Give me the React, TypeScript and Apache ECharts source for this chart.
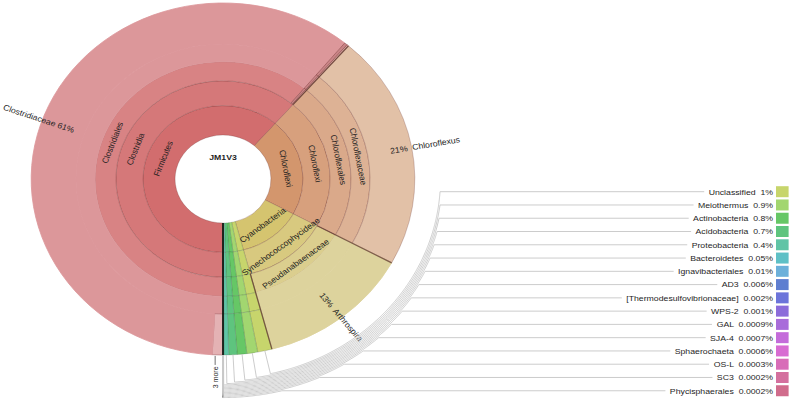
import React, { useEffect, useRef } from "react";
import * as echarts from "echarts";

// ---------------- data (percent of reads) ----------------
const sampleName = "JM1V3";

const firmicutesPath = ["Firmicutes", "Clostridia", "Clostridiales", "Clostridiaceae"];
const clostridiaceaePct = 60.5;
const clostridiaceaeMorePct = 0.9; // hatched block ("3 more")
const otherClostridiaPct = [0.25, 0.15];

const chloroflexiPath = ["Chloroflexi", "Chloroflexi", "Chloroflexales", "Chloroflexaceae", "Chloroflexus"];
const chloroflexusPct = 21.4;

const cyanoPath = ["Cyanobacteria", "Synechococcophycideae", "Pseudanabaenaceae", "Arthrospira"];
const arthrospiraPct = 12.9;

const keyNames = [
  "Unclassified",
  "Meiothermus",
  "Actinobacteria",
  "Acidobacteria",
  "Proteobacteria",
  "Bacteroidetes",
  "Ignavibacteriales",
  "AD3",
  "[Thermodesulfovibrionaceae]",
  "WPS-2",
  "GAL",
  "SJA-4",
  "Sphaerochaeta",
  "OS-L",
  "SC3",
  "Phycisphaerales",
];
const keyPct = [1.2, 0.9, 0.8, 0.7, 0.4, 0.05, 0.01, 0.006, 0.002, 0.001, 0.0009, 0.0007, 0.0006, 0.0003, 0.0002, 0.0002];
const moreText = "3 more";

// ---------------- styles ----------------
const firmicutesColors = ["#d26d6e", "#d57879", "#d88384", "#dc979a"];
const firmicutesOtherColors = ["#c98486", "#d9a39f"];
const hatchColor = "#e4b2b4";
const chloroflexiColors = ["#d3966d", "#d7a07d", "#daa98a", "#ddb295", "#e2c1a7"];
const cyanoColors = ["#d5c46f", "#d8c97f", "#dbce8e", "#ddd39d"];
const keyColors = [
  "#c7d56c", "#a2d670", "#66c766", "#5ec47e", "#60c4a6", "#5ec0c6", "#6cb0da", "#5e7ed0",
  "#6c74da", "#8c6cda", "#a86cda", "#c46cda", "#d86cd2", "#d86cb8", "#d4709e", "#d06c8c",
];
const FONT = "'Liberation Sans', Arial, Helvetica, sans-serif";
const TXT = "#1e1e1e";
const LINE_COLOR = "#c9c9c9";

// ---------------- layout ----------------
const SX = 1.09; // the reference picture is horizontally stretched
const W = 725;
const H = 402;
const CX = 204.6;
const CY = 179;
const R = [44, 73.4, 98.2, 117.4, 134.9, 176];
const KEY_R0 = 199.5;
const KEY_DR = 1.27;
const LEG_TOP = 191.7;
const LEG_STEP = 13.27;
const LEG_TEXT_RIGHT = 709.2;
const SW_X = 711.9;
const SW_W = 11.6;
const SW_H = 11;

const fmtPct = (v: number) => (v >= 1 ? `${Math.round(v)}%` : `${Number(v.toPrecision(1))}%`);
const sum = (a: number[]) => a.reduce((s, x) => s + x, 0);

function chainNode(name: string, levels: number, value: number, color: string, borderColor: string): any {
  const node: any = { name, value, itemStyle: { color, borderColor }, label: { show: false } };
  if (levels > 1) node.children = [chainNode(name, levels - 1, value, color, borderColor)];
  return node;
}

function buildOption() {
  const fPct = clostridiaceaePct + sum(otherClostridiaPct);
  const keyTotal = sum(keyPct);
  const total = fPct + chloroflexusPct + arthrospiraPct + keyTotal;
  const toV = (cum: number) => (cum / total) * 100;

  const firmicutes = {
    name: firmicutesPath[0],
    itemStyle: { color: firmicutesColors[0] },
    children: [
      {
        name: firmicutesPath[1],
        itemStyle: { color: firmicutesColors[1] },
        children: [
          {
            name: firmicutesPath[2],
            itemStyle: { color: firmicutesColors[2] },
            children: [
              {
                name: firmicutesPath[3],
                itemStyle: { color: firmicutesColors[3], borderColor: firmicutesColors[3] },
                label: {
                  rotate: "radial",
                  align: "left",
                  distance: 145 - R[3],
                  formatter: `${firmicutesPath[3]} ${fmtPct(clostridiaceaePct)}`,
                },
                children: [
                  {
                    name: moreText,
                    value: clostridiaceaeMorePct,
                    itemStyle: {
                      color: hatchColor,
                      borderColor: "rgba(150,80,85,0.55)",
                      decal: {
                        symbol: "rect",
                        symbolSize: 1,
                        dashArrayX: [1, 0],
                        dashArrayY: [1, 2],
                        rotation: Math.PI / 4,
                        color: "rgba(170,95,100,0.35)",
                      },
                    },
                    label: { show: false },
                  },
                  {
                    name: firmicutesPath[3],
                    value: clostridiaceaePct - clostridiaceaeMorePct,
                    itemStyle: { color: firmicutesColors[3], borderColor: firmicutesColors[3] },
                    label: { show: false },
                  },
                ],
              },
            ],
          },
          ...otherClostridiaPct.map((v, k) =>
            chainNode("", 3, v, firmicutesOtherColors[k], "rgba(120,50,50,0.55)")
          ),
        ],
      },
    ],
  };

  const chloroflexi: any = {
    name: chloroflexiPath[4],
    value: chloroflexusPct,
    itemStyle: { color: chloroflexiColors[4] },
    label: { rotate: "radial", position: "outside", distance: -20, formatter: `${fmtPct(chloroflexusPct)}  ${chloroflexiPath[4]}` },
  };
  let cf = chloroflexi;
  for (let d = 3; d >= 0; d--) {
    cf = { name: chloroflexiPath[d], itemStyle: { color: chloroflexiColors[d] }, children: [cf] };
  }

  const arthLeaf = {
    name: cyanoPath[3],
    value: arthrospiraPct,
    itemStyle: { color: cyanoColors[3], borderColor: cyanoColors[3] },
    label: { rotate: "radial", position: "outside", distance: -30, formatter: `${fmtPct(arthrospiraPct)}  ${cyanoPath[3]}` },
  };
  const cyano = {
    name: cyanoPath[0],
    itemStyle: { color: cyanoColors[0] },
    children: [
      {
        name: cyanoPath[1],
        itemStyle: { color: cyanoColors[1] },
        children: [
          {
            name: cyanoPath[2],
            itemStyle: { color: cyanoColors[2] },
            children: [
              {
                name: cyanoPath[3],
                itemStyle: { color: cyanoColors[3], borderColor: cyanoColors[3] },
                label: { show: false },
                children: [arthLeaf],
              },
            ],
          },
        ],
      },
    ],
  };

  const keys = keyNames.map((n, i) => chainNode(n, 5, keyPct[i], keyColors[i], "rgba(40,60,40,0.22)"));

  const root = {
    name: sampleName,
    itemStyle: { color: "#ffffff", borderWidth: 0 },
    children: [firmicutes, cf, cyano, ...keys],
  };

  // angle positions (percent of circle) derived from the data
  const groupEnds = [fPct, fPct + chloroflexusPct, fPct + chloroflexusPct + arthrospiraPct];
  const keyMid: number[] = [];
  let cum = groupEnds[2];
  keyPct.forEach((v) => {
    keyMid.push(toV(cum + v / 2));
    cum += v;
  });
  const boundaries = [0, ...groupEnds].map((c) => toV(c));
  const moreMid = toV(clostridiaceaeMorePct / 2);

  return {
    animation: false,
    backgroundColor: "#ffffff",
    polar: { center: [CX, CY], radius: R[5] },
    angleAxis: { type: "value", min: 0, max: 100, startAngle: 270, clockwise: true, show: false },
    radiusAxis: { type: "value", min: 0, max: R[5], show: false },
    series: [
      {
        type: "sunburst",
        center: [CX, CY],
        radius: [0, R[5]],
        startAngle: 270,
        clockwise: true,
        sort: null,
        silent: true,
        nodeClick: false,
        emphasis: { disabled: true },
        data: [root],
        itemStyle: { borderWidth: 0.8, borderColor: "rgba(100,45,45,0.3)" },
        label: {
          fontSize: 8,
          fontFamily: FONT,
          color: TXT,
          rotate: "tangential",
          textBorderWidth: 0,
          overflow: "none",
        },
        levels: [
          {},
          { r0: 0, r: R[0], label: { rotate: 0, fontWeight: "bold", fontSize: 8 } },
          { r0: R[0], r: R[1] },
          { r0: R[1], r: R[2] },
          { r0: R[2], r: R[3] },
          { r0: R[3], r: R[4] },
          { r0: R[4], r: R[5], label: { rotate: "radial" } },
        ],
      },
      {
        type: "custom",
        coordinateSystem: "polar",
        silent: true,
        z: 4,
        data: boundaries.map((v) => [R[5], v]),
        renderItem: (params: any, api: any) => {
          const i = params.dataIndex;
          const v = api.value(1);
          const rIn = i === 0 ? R[0] : R[2];
          const rOut = i === 0 ? KEY_R0 + (keyNames.length - 1) * KEY_DR : R[5];
          const a = api.coord([rIn, v]);
          const b = api.coord([rOut, v]);
          return {
            type: "line",
            shape: { x1: a[0], y1: a[1], x2: b[0], y2: b[1] },
            style: { stroke: i === 0 ? "#1a1a1a" : "rgba(95,55,45,0.75)", lineWidth: i === 0 ? 1.3 : 1.2 },
          };
        },
      },
      {
        type: "custom",
        coordinateSystem: "polar",
        silent: true,
        z: 5,
        data: keyMid.map((v) => [R[5], v]),
        renderItem: (params: any, api: any) => {
          const i = params.dataIndex;
          const v0 = api.value(1);
          const r = KEY_R0 + i * KEY_DR;
          const yRow = LEG_TOP + i * LEG_STEP;
          const pts: number[][] = [api.coord([R[5], v0])];
          let v = v0;
          let p = api.coord([r, v]);
          pts.push(p);
          for (let g = 0; g < 3000; g++) {
            const nv = v - 0.08;
            const np = api.coord([r, nv]);
            if (np[1] <= yRow) {
              const t = (p[1] - yRow) / (p[1] - np[1]);
              pts.push([p[0] + t * (np[0] - p[0]), yRow]);
              break;
            }
            pts.push(np);
            p = np;
            v = nv;
          }
          pts.push([LEG_TEXT_RIGHT, yRow]);
          return {
            type: "group",
            children: [
              { type: "polyline", shape: { points: pts }, style: { stroke: LINE_COLOR, lineWidth: 0.9, fill: "none" } },
              {
                type: "text",
                style: {
                  text: `${keyNames[i]}  ${fmtPct(keyPct[i])}`,
                  x: LEG_TEXT_RIGHT,
                  y: yRow,
                  align: "right",
                  verticalAlign: "middle",
                  fill: TXT,
                  fontSize: 8,
                  fontFamily: FONT,
                  backgroundColor: "#ffffff",
                  padding: [1, 0, 1, 4],
                },
              },
              {
                type: "rect",
                shape: { x: SW_X, y: yRow - SW_H / 2, width: SW_W, height: SW_H },
                style: { fill: keyColors[i] },
              },
            ],
          };
        },
      },
      {
        type: "custom",
        coordinateSystem: "polar",
        silent: true,
        z: 5,
        data: [[R[5], moreMid]],
        renderItem: (params: any, api: any) => {
          const p = api.coord([R[5], api.value(1)]);
          const x = p[0] - 2.2;
          return {
            type: "group",
            children: [
              { type: "line", shape: { x1: x, y1: p[1] + 1, x2: x, y2: p[1] + 10 }, style: { stroke: "#555", lineWidth: 0.8 } },
              {
                type: "text",
                x: x,
                y: p[1] + 11.5,
                rotation: Math.PI / 2,
                style: { text: moreText, align: "right", verticalAlign: "middle", fill: TXT, fontSize: 7, fontFamily: FONT },
              },
            ],
          };
        },
      },
    ],
  };
}

export default function App() {
  const ref = useRef<HTMLDivElement>(null);
  useEffect(() => {
    if (!ref.current) return;
    const chart = echarts.init(ref.current, undefined, { renderer: "svg" });
    chart.setOption(buildOption() as any);
    return () => chart.dispose();
  }, []);
  return (
    <div style={{ position: "fixed", left: 0, top: 0, width: 790, height: 402, overflow: "hidden", background: "#fff" }}>
      <div ref={ref} style={{ width: W, height: H, transform: `scaleX(${SX})`, transformOrigin: "0 0" }} />
    </div>
  );
}
